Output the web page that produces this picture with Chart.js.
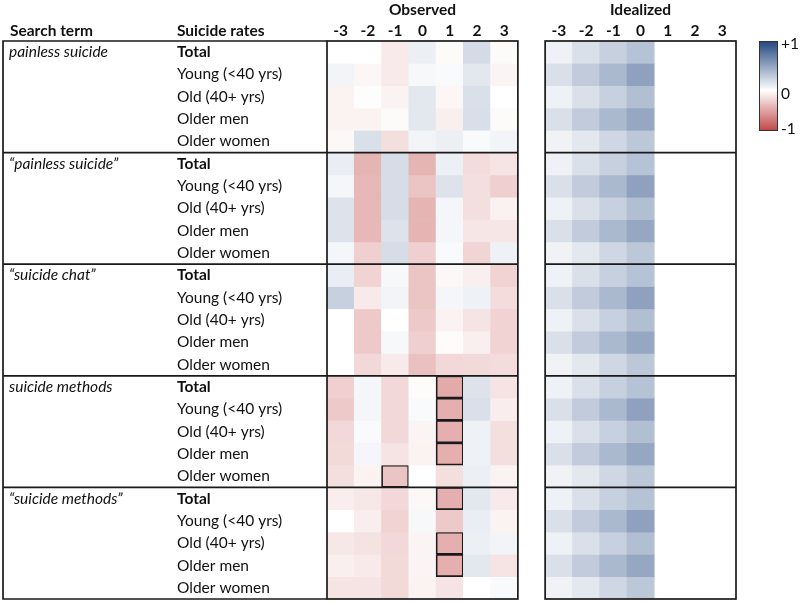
<!DOCTYPE html>
<html>
<head>
<meta charset="utf-8">
<script src="https://cdn.jsdelivr.net/npm/chart.js@4.4.0/dist/chart.umd.min.js"></script>
<style>
  body { margin:0; background:#fff; font-family:Lato, sans-serif; }
  #wrap { position:relative; width:800px; height:602px; }
  #legend { position:absolute; left:759px; top:41px; width:17px; height:88px; border:1px solid #333;
    background:linear-gradient(to bottom,#284b82 0%,#fff 55%,#c24b4b 100%); }
  .lab { position:absolute; left:781px; font-size:15.5px; color:#111; line-height:16px; }
</style>
</head>
<body>
<div id="wrap">
  <canvas id="heat" width="800" height="602"></canvas>
  <div id="legend"></div>
  <div class="lab" style="top:35px">+1</div>
  <div class="lab" style="top:85px">0</div>
  <div class="lab" style="top:120px">-1</div>
</div>
<script>
// lags (months) en rij-labels
const columns = ["-3","-2","-1","0","1","2","3"];
const searchTerms = ["painless suicide","\u201cpainless suicide\u201d","\u201csuicide chat\u201d","suicide methods","\u201csuicide methods\u201d"];
const rateLabels = ["Total","Young (<40 yrs)","Old (40+ yrs)","Older men","Older women"];

// observed correlations, per search term: rows Total, Young, Old, Older men, Older women
const painless = [
  [0, 0, -0.12, 0.09, -0.03, 0.2, -0.03],
  [0.06, -0.05, -0.12, 0.04, 0.03, 0.13, -0.06],
  [-0.07, 0.01, -0.07, 0.13, -0.05, 0.17, 0],
  [-0.07, -0.07, -0.03, 0.13, -0.09, 0.18, -0.03],
  [-0.04, 0.17, -0.18, 0.06, 0.09, 0.03, 0.06]
];
const painlessQuoted = [
  [0.1, -0.42, 0.19, -0.42, 0.09, -0.2, -0.15],
  [0.05, -0.4, 0.19, -0.33, 0.16, -0.18, -0.27],
  [0.16, -0.4, 0.19, -0.42, 0.05, -0.18, -0.08],
  [0.16, -0.4, 0.16, -0.42, 0.05, -0.14, -0.14],
  [0.05, -0.27, 0.19, -0.27, 0.03, -0.24, 0.08]
];
const chatQuoted = [
  [0.1, -0.25, 0.04, -0.33, -0.04, -0.09, -0.25],
  [0.26, -0.12, 0.06, -0.33, 0.05, 0.08, -0.2],
  [0, -0.3, 0, -0.3, -0.07, -0.15, -0.25],
  [0, -0.3, 0.04, -0.27, -0.02, -0.09, -0.25],
  [0, -0.22, -0.12, -0.35, -0.22, -0.21, -0.2]
];
const methods = [
  [-0.27, 0.05, -0.22, -0.02, -0.48, 0.16, -0.15],
  [-0.3, 0.05, -0.22, 0.03, -0.45, 0.17, -0.1],
  [-0.22, 0.03, -0.22, -0.06, -0.45, 0.08, -0.18],
  [-0.21, 0.05, -0.15, -0.07, -0.45, 0.08, -0.18],
  [-0.18, -0.07, -0.33, 0, -0.18, 0.09, -0.07]
];
const methodsQuoted = [
  [-0.1, -0.13, -0.22, -0.04, -0.45, 0.13, -0.12],
  [0, -0.1, -0.25, 0.04, -0.3, 0.1, -0.07],
  [-0.13, -0.16, -0.22, -0.06, -0.45, 0.09, 0.06],
  [-0.09, -0.12, -0.21, -0.06, -0.45, 0.13, -0.15],
  [-0.15, -0.15, -0.21, -0.07, -0.15, 0, 0.03]
];
// idealized pattern (lags -3..0), same for every search term
const idealized = [
  [0.08, 0.17, 0.26, 0.34],
  [0.17, 0.29, 0.39, 0.52],
  [0.08, 0.17, 0.26, 0.36],
  [0.17, 0.29, 0.39, 0.49],
  [0.07, 0.13, 0.22, 0.31]
];
// boxed (significant) cells: [row, column]
const significant = [[15,4],[16,4],[17,4],[18,4],[19,2],[20,4],[22,4],[23,4]];

const observed = [painless, painlessQuoted, chatQuoted, methods, methodsQuoted];
const xLabels = [...columns, "", ...columns];

function heatColor(v){
  if(v==null) return "rgba(0,0,0,0)";
  const end = v<0 ? [194,78,76] : [40,75,130];
  const t = Math.min(Math.abs(v),1);
  return `rgb(${end.map(c=>Math.round(255+(c-255)*t)).join(",")})`;
}

const datasets = [];
observed.forEach((group,g)=>{
  group.forEach((row,r)=>{
    const idx = g*5+r;
    const vals = [...row, null, ...idealized[r], null, null, null];
    datasets.push({
      data: vals.map(v=> v==null ? null : [idx, idx+1]),
      backgroundColor: vals.map(heatColor),
      borderColor: "#1a1a1a",
      borderWidth: vals.map((v,c)=> significant.some(s=>s[0]===idx && s[1]===c) ? 1.7 : 0),
      borderSkipped: false
    });
  });
});

const FONT = "Lato, sans-serif";
const SIZE = 15.5;

// lijnen + tekst van de tabel
const tableLines = {
  id:"tableLines",
  afterDatasetsDraw(chart){
    const {ctx, scales:{x,y}} = chart;
    const w = x.getPixelForValue(1)-x.getPixelForValue(0);
    const obsL = x.getPixelForValue(0)-w/2, obsR = x.getPixelForValue(6)+w/2;
    const idL = x.getPixelForValue(8)-w/2, idR = x.getPixelForValue(14)+w/2;
    const top = y.getPixelForValue(0), bottom = y.getPixelForValue(25);
    ctx.save();
    ctx.strokeStyle = "#1a1a1a";
    ctx.lineWidth = 1.7;
    ctx.strokeRect(obsL, top, obsR-obsL, bottom-top);
    ctx.strokeRect(idL, top, idR-idL, bottom-top);
    ctx.beginPath();
    ctx.moveTo(obsL, top); ctx.lineTo(3, top); ctx.lineTo(3, bottom); ctx.lineTo(obsL, bottom);
    for(let g=1; g<5; g++){
      const yy = y.getPixelForValue(g*5);
      ctx.moveTo(3, yy); ctx.lineTo(obsR, yy);
      ctx.moveTo(idL, yy); ctx.lineTo(idR, yy);
    }
    ctx.stroke();

    ctx.fillStyle = "#111";
    ctx.textBaseline = "middle";
    ctx.textAlign = "center";
    ctx.font = `bold ${SIZE}px ${FONT}`;
    ctx.fillText("Observed", (obsL+obsR)/2, 10);
    ctx.fillText("Idealized", (idL+idR)/2, 10);
    ctx.textAlign = "left";
    ctx.fillText("Search term", 10, 31);
    ctx.fillText("Suicide rates", 177, 31);
    searchTerms.forEach((term,g)=>{
      rateLabels.forEach((lab,r)=>{
        const yy = y.getPixelForValue(g*5+r+0.5);
        if(r===0){
          ctx.font = `italic ${SIZE}px ${FONT}`;
          ctx.fillText(term, 9, yy);
        }
        ctx.font = r===0 ? `bold ${SIZE}px ${FONT}` : `${SIZE}px ${FONT}`;
        ctx.fillText(lab, 177, yy);
      });
    });
    ctx.restore();
  }
};

new Chart(document.getElementById("heat"), {
  type:"bar",
  data:{ labels:xLabels, datasets },
  options:{
    responsive:false,
    animation:false,
    layout:{ padding:{ left:327, right:64, top:21, bottom:3 } },
    datasets:{ bar:{ grouped:false, barPercentage:1, categoryPercentage:1 } },
    plugins:{ legend:{display:false}, tooltip:{enabled:false} },
    scales:{
      x:{
        position:"top",
        grid:{ display:false, drawTicks:false },
        border:{ display:false },
        ticks:{ font:{ family:FONT, size:SIZE, weight:"bold" }, color:"#111", padding:1, maxRotation:0, autoSkip:false },
        afterFit(scale){ scale.height = 20; }
      },
      y:{ type:"linear", min:0, max:25, reverse:true, display:false }
    }
  },
  plugins:[tableLines]
});
</script>
</body>
</html>
